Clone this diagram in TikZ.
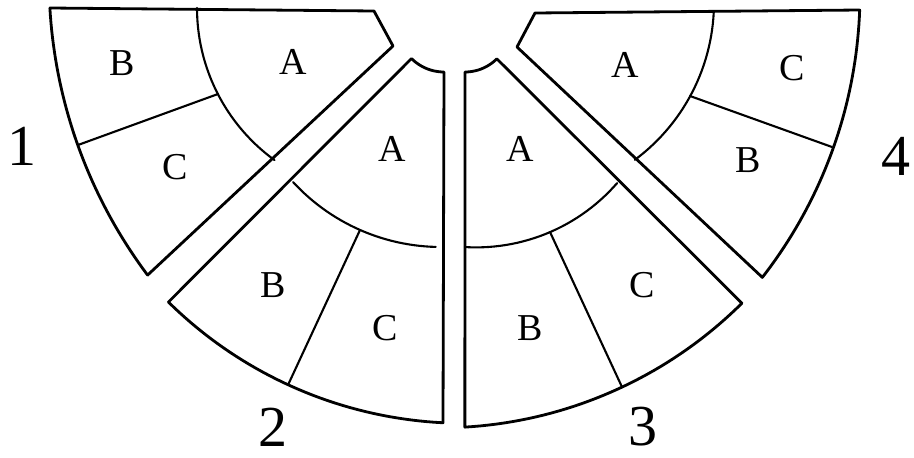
\documentclass[tikz,border=0pt]{standalone}
\usepackage{fontspec}
\setmainfont{Liberation Serif}
\begin{document}
\begin{tikzpicture}[x=1pt,y=-1pt,line join=round,line cap=round,
  outl/.style={line width=2.8pt},
  inl/.style={line width=2.1pt},
  lab/.style={font=\fontsize{38}{38}\selectfont,inner sep=0pt},
  num/.style={font=\fontsize{58}{58}\selectfont,inner sep=0pt}]
\useasboundingbox (0,0) rectangle (914,458);
\clip (0,0) rectangle (914,458);
\fill[white] (0,0) rectangle (914,458);

% piece 1
\draw[outl] (50,8) -- (374,11) -- (393,46) -- (147.6,275.1)
  -- plot[domain=143.15:176.63,samples=40] ({543+494*cos(\x)},{-21+494*sin(\x)}) -- cycle;
\draw[inl] plot[domain=126:180,samples=30] ({385+188*cos(\x)},{8+188*sin(\x)});
\draw[inl] (218,94) -- (78,145);

% piece 2
\draw[outl] plot[domain=90:135,samples=12] ({444+46*cos(\x)},{26+46*sin(\x)})
  -- (168.4,302.1)
  -- plot[domain=134.6:92.86,samples=40] ({464+421*cos(\x)},{2.3+421*sin(\x)}) -- cycle;
\draw[inl] plot[domain=91.5:137.4,samples=30] ({441+201*cos(\x)},{46+201*sin(\x)});
\draw[inl] (360,230) -- (288,385);

% piece 3
\draw[outl] plot[domain=90:45,samples=12] ({465+45*cos(\x)},{27+45*sin(\x)})
  -- (741.9,303.2)
  -- plot[domain=45.2:86.6,samples=40] ({439.4+429.4*cos(\x)},{-1.5+429.4*sin(\x)}) -- cycle;
\draw[inl] plot[domain=41:93.4,samples=30] ({476+187*cos(\x)},{60.4+187*sin(\x)});
\draw[inl] (550,232) -- (622,387);

% piece 4
\draw[outl] (535,13) -- (859.7,10)
  -- plot[domain=2.1:37.9,samples=40] ({397+463*cos(\x)},{-7+463*sin(\x)})
  -- (517,47) -- cycle;
\draw[inl] plot[domain=2.8:53.4,samples=30] ({518+196*cos(\x)},{2.5+196*sin(\x)});
\draw[inl] (690,96) -- (832,147);

% labels
\node[lab] (p1b) at (122,63) {B};
\node[lab] (p1a) at (293,62) {A};
\node[lab] (p1c) at (175,167) {C};
\node[lab] (p2a) at (392,149) {A};
\node[lab] (p2b) at (273,285) {B};
\node[lab] (p2c) at (385,328) {C};
\node[lab] (p3a) at (520,149) {A};
\node[lab] (p3b) at (530,328) {B};
\node[lab] (p3c) at (642,285) {C};
\node[lab] (p4a) at (625,65) {A};
\node[lab] (p4c) at (792,68) {C};
\node[lab] (p4b) at (748,160) {B};

\node[num] (n1) at (22,146) {1};
\node[num] (n2) at (273,427) {2};
\node[num] (n3) at (643,427) {3};
\node[num] (n4) at (896,156) {4};
\end{tikzpicture}
\end{document}
